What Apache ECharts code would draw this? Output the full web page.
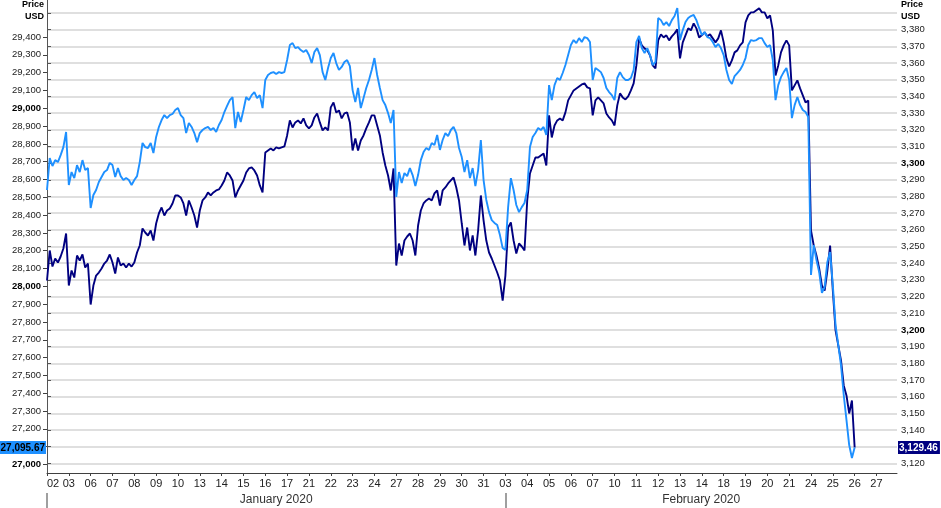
<!DOCTYPE html>
<html>
<head>
<meta charset="utf-8">
<title>Dow Jones vs S&amp;P 500, Jan - Feb 2020</title>
<script src="https://cdn.jsdelivr.net/npm/echarts@6/dist/echarts.min.js"></script>
<style>
  html, body { margin: 0; padding: 0; background: #fff; }
  #chart { width: 941px; height: 508px; }
</style>
</head>
<body>
<div id="chart"></div>
<script>
// trading days on the x axis, Jan 2 - Feb 27 2020
const dayLabels = ['02', '03', '06', '07', '08', '09', '10', '13', '14', '15', '16', '17', '21', '22', '23', '24', '27', '28', '29', '30', '31',
  '03', '04', '05', '06', '07', '10', '11', '12', '13', '14', '18', '19', '20', '21', '24', '25', '26', '27'];
const monthLabels = ['January 2020', 'February 2020'];
const monthStarts = [0, 21];
const monthCenters = [10.5, 29.97];

const POINTS_PER_DAY = 8;
const AXIS_END = 38.94;

// Dow Jones (light blue, left axis), 8 readings per trading day
const dowPrices = [
  28541, 28721, 28676, 28709, 28698, 28737, 28782, 28867,
  28569, 28642, 28608, 28681, 28642, 28709, 28653, 28664,
  28440, 28513, 28541, 28586, 28614, 28642, 28653, 28693,
  28681, 28614, 28664, 28619, 28597, 28608, 28597, 28569,
  28597, 28619, 28698, 28805, 28782, 28777, 28805, 28749,
  28839, 28895, 28934, 28962, 28945, 28962, 28968, 28990,
  29001, 28962, 28945, 28861, 28917, 28895, 28861, 28810,
  28861, 28878, 28889, 28895, 28878, 28889, 28867, 28906,
  28934, 28979, 29013, 29046, 29063, 28889, 28979, 28923,
  28990, 29063, 29046, 29074, 29091, 29057, 29074, 29001,
  29159, 29187, 29198, 29203, 29192, 29203, 29198, 29203,
  29271, 29355, 29366, 29338, 29344, 29327, 29316, 29327,
  29299, 29254, 29316, 29338, 29299, 29203, 29159, 29226,
  29282, 29310, 29254, 29215, 29232, 29260, 29271, 29237,
  29102, 29035, 29114, 29001, 29057, 29114, 29159, 29215,
  29282, 29187, 29114, 29046, 29018, 28973, 28917, 28990,
  28502, 28642, 28580, 28636, 28619, 28664, 28625, 28563,
  28625, 28709, 28754, 28777, 28766, 28805, 28794, 28850,
  28766, 28822, 28861, 28844, 28878, 28895, 28861, 28777,
  28726, 28642, 28709, 28608, 28664, 28563, 28653, 28822,
  28597, 28485, 28417, 28372, 28356, 28344, 28288, 28215,
  28204, 28445, 28608, 28541, 28457, 28417, 28445, 28468,
  28541, 28782, 28839, 28861, 28889, 28878, 28895, 28850,
  29130, 29046, 29130, 29170, 29159, 29198, 29243, 29299,
  29355, 29383, 29366, 29394, 29372, 29400, 29394, 29372,
  29159, 29226, 29215, 29203, 29170, 29114, 29091, 29074,
  29046, 29170, 29203, 29175, 29159, 29159, 29170, 29215,
  29372, 29406, 29338, 29310, 29338, 29299, 29243, 29260,
  29507, 29495, 29467, 29484, 29462, 29495, 29518, 29563,
  29383, 29439, 29484, 29507, 29518, 29524, 29495, 29451,
  29411, 29428, 29400, 29394, 29372, 29344, 29361, 29338,
  29299, 29215, 29159, 29136, 29181, 29198, 29215, 29243,
  29282, 29355, 29383, 29378, 29383, 29394, 29394, 29366,
  29344, 29355, 29271, 29046, 29130, 29175, 29203, 29226,
  29159, 28945, 29018, 29063, 29018, 28990, 28979, 28951,
  28064, 28232, 28148, 28080, 27963, 27996, 28137, 28193,
  28007, 27783, 27671, 27558, 27390, 27250, 27109, 27036
];

// S&P 500 (navy, right axis), 8 readings per trading day
const spxPrices = [
  3229.6, 3247.6, 3238.0, 3242.8, 3240.4, 3244.0, 3248.8, 3257.8,
  3226.6, 3235.6, 3231.4, 3244.6, 3241.6, 3245.2, 3237.4, 3239.8,
  3215.2, 3226.6, 3232.6, 3234.4, 3236.8, 3239.8, 3241.6, 3245.2,
  3240.4, 3233.8, 3243.4, 3238.6, 3239.8, 3237.4, 3239.8, 3238.0,
  3240.4, 3246.4, 3250.6, 3260.8, 3258.4, 3256.6, 3259.6, 3253.6,
  3263.8, 3269.8, 3273.4, 3268.6, 3271.6, 3272.8, 3275.8, 3280.6,
  3280.6, 3279.4, 3275.8, 3268.6, 3277.6, 3273.4, 3268.6, 3261.4,
  3271.6, 3277.6, 3279.4, 3282.4, 3280.6, 3282.4, 3283.6, 3284.2,
  3286.6, 3289.6, 3294.4, 3292.6, 3289.6, 3279.4, 3283.6, 3286.6,
  3289.6, 3294.4, 3296.8, 3297.4, 3295.6, 3292.6, 3286.6, 3282.4,
  3306.4, 3307.6, 3308.8, 3307.6, 3309.4, 3308.8, 3309.4, 3310.0,
  3316.6, 3325.6, 3321.4, 3324.4, 3325.6, 3323.8, 3326.8, 3322.6,
  3320.8, 3322.6, 3327.4, 3329.8, 3324.4, 3319.6, 3321.4, 3319.6,
  3333.4, 3336.4, 3330.4, 3331.6, 3326.8, 3329.8, 3330.4, 3324.4,
  3307.6, 3314.8, 3307.6, 3313.6, 3316.6, 3320.8, 3324.4, 3328.6,
  3328.6, 3322.6, 3316.6, 3306.4, 3298.6, 3292.6, 3283.6, 3296.8,
  3238.6, 3251.8, 3244.6, 3253.6, 3256.0, 3257.8, 3253.6, 3244.6,
  3262.6, 3271.6, 3275.8, 3277.6, 3278.8, 3277.6, 3281.8, 3283.6,
  3274.6, 3283.6, 3285.4, 3287.8, 3289.6, 3291.4, 3285.4, 3277.6,
  3263.8, 3250.6, 3261.4, 3247.6, 3256.6, 3244.6, 3259.6, 3280.6,
  3265.7, 3253.6, 3246.4, 3242.8, 3238.6, 3234.4, 3229.6, 3217.6,
  3232.6, 3261.4, 3264.4, 3253.6, 3245.8, 3251.8, 3250.0, 3247.6,
  3277.6, 3293.8, 3298.6, 3303.4, 3303.4, 3304.6, 3305.8, 3298.6,
  3328.6, 3315.4, 3322.6, 3325.6, 3326.8, 3325.6, 3330.4, 3337.6,
  3340.6, 3343.6, 3344.8, 3346.0, 3347.2, 3347.8, 3345.4, 3344.8,
  3328.6, 3337.6, 3339.4, 3337.6, 3335.8, 3329.8, 3327.4, 3325.6,
  3322.6, 3334.6, 3341.8, 3339.4, 3338.2, 3340.0, 3343.6, 3347.8,
  3358.6, 3374.8, 3370.6, 3368.8, 3367.6, 3364.6, 3358.6, 3356.8,
  3373.6, 3377.2, 3375.4, 3376.6, 3373.6, 3376.0, 3377.8, 3380.2,
  3362.8, 3372.4, 3376.6, 3380.8, 3379.6, 3383.8, 3380.8, 3375.4,
  3376.6, 3378.4, 3376.0, 3377.2, 3374.8, 3372.4, 3374.8, 3379.6,
  3372.4, 3362.8, 3358.0, 3361.6, 3366.4, 3367.6, 3370.6, 3372.4,
  3384.4, 3388.6, 3390.4, 3390.4, 3391.6, 3392.8, 3390.4, 3390.4,
  3386.8, 3388.6, 3379.6, 3352.6, 3358.6, 3366.4, 3370.6, 3373.6,
  3370.6, 3343.6, 3346.6, 3349.6, 3344.8, 3340.6, 3336.4, 3337.6,
  3259.6, 3250.6, 3244.6, 3236.8, 3226.6, 3223.6, 3235.6, 3250.6,
  3223.7, 3199.7, 3190.7, 3181.7, 3166.7, 3160.7, 3149.9, 3157.7
];

const lastDow = 27095.67;
const lastSpx = 3129.46;

const leftTicks = [27000, 27100, 27200, 27300, 27400, 27500, 27600, 27700, 27800, 27900, 28000, 28100, 28200,
  28300, 28400, 28500, 28600, 28700, 28800, 28900, 29000, 29100, 29200, 29300, 29400];
const leftLabels = [27000, 27200, 27300, 27400, 27500, 27600, 27700, 27800, 27900, 28000, 28100, 28200,
  28300, 28400, 28500, 28600, 28700, 28800, 28900, 29000, 29100, 29200, 29300, 29400];
const rightTicks = [3120, 3130, 3140, 3150, 3160, 3170, 3180, 3190, 3200, 3210, 3220, 3230, 3240, 3250, 3260,
  3270, 3280, 3290, 3300, 3310, 3320, 3330, 3340, 3350, 3360, 3370, 3380, 3390];
const rightLabels = [3120, 3140, 3150, 3160, 3170, 3180, 3190, 3200, 3210, 3220, 3230, 3240, 3250, 3260,
  3270, 3280, 3290, 3300, 3310, 3320, 3330, 3340, 3350, 3360, 3370, 3380];

const DOW_COLOR = '#1E90FF';
const SPX_COLOR = '#000080';
const FONT = 'Liberation Sans, Arial, sans-serif';

const toSeries = (prices, last) => {
  const pts = prices.map((v, i) => [i / POINTS_PER_DAY, v]);
  pts.push([prices.length / POINTS_PER_DAY, last]);
  return pts;
};

const fmt = (v) => v.toLocaleString('en-US', { maximumFractionDigits: 2 });

const chart = echarts.init(document.getElementById('chart'));

const unitStyle = { text: 'Price\nUSD', font: 'bold 9px ' + FONT, lineHeight: 12, fill: '#000', verticalAlign: 'top' };

const option = {
  animation: false,
  textStyle: { fontFamily: FONT },
  grid: { left: 47, right: 44, top: 0, bottom: 35, outerBoundsMode: 'none' },
  graphic: [
    { type: 'text', x: 44, y: -1, style: Object.assign({ align: 'right' }, unitStyle) },
    { type: 'text', x: 901, y: -1, style: Object.assign({ align: 'left' }, unitStyle) }
  ],
  xAxis: [
    {
      type: 'value',
      min: 0,
      max: AXIS_END,
      axisLine: { lineStyle: { color: '#404040', width: 1 } },
      axisTick: { customValues: dayLabels.map((_, i) => i), length: 3, lineStyle: { color: '#404040' } },
      splitLine: { show: false },
      axisLabel: {
        customValues: dayLabels.map((_, i) => i),
        margin: 5,
        fontSize: 11,
        color: '#222',
        formatter: (v) => (v === 0 ? '{first|' + dayLabels[0] + '}' : dayLabels[Math.round(v)]),
        rich: { first: { fontSize: 11, color: '#222', padding: [0, 0, 0, 12] } }
      }
    },
    {
      type: 'value',
      min: 0,
      max: AXIS_END,
      position: 'bottom',
      offset: 20,
      axisLine: { show: false },
      axisTick: { customValues: monthStarts, length: 16, lineStyle: { color: '#808080', width: 1.5 } },
      splitLine: { show: false },
      axisLabel: {
        customValues: monthCenters,
        margin: 1,
        fontSize: 12,
        color: '#333',
        formatter: (v) => (v < monthStarts[1] ? monthLabels[0] : monthLabels[1])
      }
    }
  ],
  yAxis: [
    {
      type: 'value',
      position: 'left',
      min: 26952,
      max: 29608,
      axisLine: { show: true, lineStyle: { color: '#404040' } },
      axisTick: { show: true, customValues: leftTicks, length: 4, lineStyle: { color: '#404040' } },
      splitLine: { show: false },
      axisLabel: {
        customValues: leftLabels.concat([lastDow]),
        margin: 1,
        formatter: (v) => {
          if (v === lastDow) return '{last|' + fmt(v) + '}';
          if (v % 1000 === 0) return '{b|' + fmt(v) + '}';
          return '{n|' + fmt(v) + '}';
        },
        rich: {
          n: { fontSize: 9.5, color: '#222', padding: [0, 5, 0, 0] },
          b: { fontSize: 9.5, color: '#000', fontWeight: 'bold', padding: [0, 5, 0, 0] },
          last: { fontSize: 10, color: '#000', fontWeight: 'bold', backgroundColor: DOW_COLOR, padding: [2, 1, 1, 2] }
        }
      }
    },
    {
      type: 'value',
      position: 'right',
      min: 3114.2,
      max: 3397.8,
      axisLine: { show: true, lineStyle: { color: '#555' } },
      axisTick: { show: true, customValues: rightTicks, length: 4, lineStyle: { color: '#555' } },
      splitLine: { show: true, lineStyle: { color: '#d4d4d4', width: 1.5 } },
      axisLabel: {
        customValues: rightLabels.concat([lastSpx]),
        margin: 1,
        formatter: (v) => {
          if (v === lastSpx) return '{last|' + fmt(v) + '}';
          if (v % 100 === 0) return '{b|' + fmt(v) + '}';
          return '{n|' + fmt(v) + '}';
        },
        rich: {
          n: { fontSize: 9.5, color: '#222', padding: [0, 0, 0, 3] },
          b: { fontSize: 9.5, color: '#000', fontWeight: 'bold', padding: [0, 0, 0, 3] },
          last: { fontSize: 10, color: '#fff', fontWeight: 'bold', backgroundColor: SPX_COLOR, padding: [2, 2, 1, 1] }
        }
      }
    }
  ],
  series: [
    {
      name: 'S&P 500',
      type: 'line',
      yAxisIndex: 1,
      showSymbol: false,
      data: toSeries(spxPrices, lastSpx),
      lineStyle: { color: SPX_COLOR, width: 1.9 },
      itemStyle: { color: SPX_COLOR }
    },
    {
      name: 'Dow Jones',
      type: 'line',
      yAxisIndex: 0,
      showSymbol: false,
      data: toSeries(dowPrices, lastDow),
      lineStyle: { color: DOW_COLOR, width: 1.9 },
      itemStyle: { color: DOW_COLOR }
    }
  ]
};

chart.setOption(option);
</script>
</body>
</html>
